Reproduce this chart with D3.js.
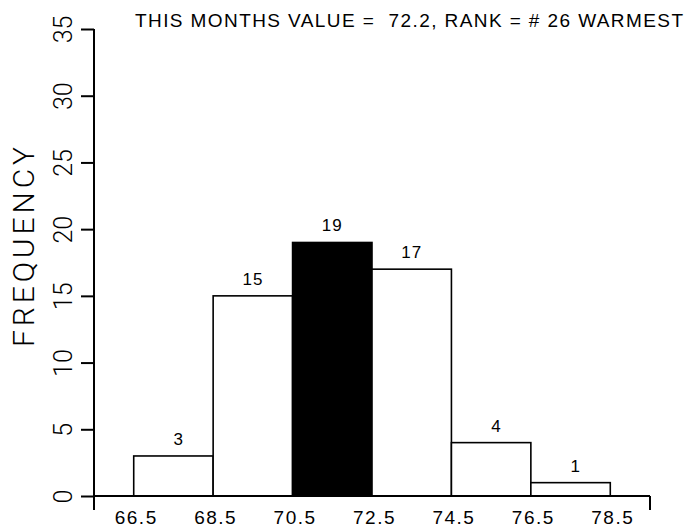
<!DOCTYPE html>
<html>
<head>
<meta charset="utf-8">
<script src="https://cdn.jsdelivr.net/npm/d3@7"></script>
<style>
  html, body { margin: 0; padding: 0; background: #fff; }
  svg { display: block; }
  text { font-family: "Liberation Sans", Arial, sans-serif; fill: #000; }
</style>
</head>
<body>
<svg id="chart" width="685" height="529"></svg>
<script>
// ---- data ----
const binEdges = [66.5, 68.5, 70.5, 72.5, 74.5, 76.5, 78.5];
const counts = [3, 15, 19, 17, 4, 1];
const thisMonthValue = 72.2;
const rank = 26;
const yTicks = [0, 5, 10, 15, 20, 25, 30, 35];
const xTickLabels = ["66.5", "68.5", "70.5", "72.5", "74.5", "76.5", "78.5"];
const titleText = "THIS MONTHS VALUE =  " + thisMonthValue.toFixed(1) + ", RANK = # " + rank + " WARMEST";
const yLabel = "FREQUENCY";

// ---- layout ----
const svg = d3.select("#chart");
const plotLeft = 94, plotRight = 650, plotTop = 29, plotBottom = 496;

const x = d3.scaleLinear().domain([65.5, 79.5]).range([plotLeft, plotRight]);
const y = d3.scaleLinear().domain([0, 35]).range([plotBottom, plotTop]);

const bins = counts.map((c, i) => ({
  x0: binEdges[i], x1: binEdges[i + 1], count: c,
  hit: thisMonthValue >= binEdges[i] && thisMonthValue < binEdges[i + 1]
}));

// bars
svg.append("g").selectAll("rect").data(bins).join("rect")
  .attr("x", d => x(d.x0))
  .attr("y", d => y(d.count))
  .attr("width", d => x(d.x1) - x(d.x0))
  .attr("height", d => y(0) - y(d.count))
  .attr("fill", d => d.hit ? "#000" : "#fff")
  .attr("stroke", "#000")
  .attr("stroke-width", 1.6);

// bar value labels
svg.append("g").selectAll("text").data(bins).join("text")
  .attr("x", d => (x(d.x0) + x(d.x1)) / 2 + 10.5)
  .attr("y", d => y(d.count) - 11)
  .attr("text-anchor", "end")
  .style("font-size", "17px")
  .style("letter-spacing", "1px")
  .text(d => d.count);

// y axis
const yAxis = d3.axisLeft(y).tickValues(yTicks).tickSize(13).tickFormat(d3.format("d"));
const gy = svg.append("g").attr("transform", `translate(${plotLeft},0)`).call(yAxis);
gy.select(".domain").remove();
gy.selectAll(".tick line").attr("stroke", "#000").attr("stroke-width", 2);
gy.selectAll(".tick text")
  .attr("x", null).attr("dy", null)
  .attr("text-anchor", "middle")
  .attr("transform", "translate(-22,0) rotate(-90)")
  .style("font-family", "Roboto, 'Liberation Sans', sans-serif")
  .style("font-weight", "300")
  .style("font-size", "25px");

// x axis labels
const xAxis = d3.axisBottom(x).tickValues(binEdges).tickSize(0).tickFormat((d, i) => xTickLabels[i]);
const gx = svg.append("g").attr("transform", `translate(0,${plotBottom})`).call(xAxis);
gx.select(".domain").remove();
gx.selectAll(".tick text")
  .attr("y", 28).attr("dy", null)
  .attr("dx", 2)
  .style("font-size", "19px")
  .style("letter-spacing", "1.5px");

// axis lines
const axisG = svg.append("g").attr("stroke", "#000").attr("stroke-width", 2).attr("fill", "none");
axisG.append("line").attr("x1", plotLeft).attr("x2", plotLeft).attr("y1", y(35)).attr("y2", plotBottom + 14);
axisG.append("line").attr("x1", plotLeft).attr("x2", plotRight).attr("y1", plotBottom).attr("y2", plotBottom);
axisG.append("line").attr("x1", plotRight).attr("x2", plotRight).attr("y1", plotBottom).attr("y2", plotBottom + 14);

// title
svg.append("text")
  .attr("x", 135).attr("y", 27)
  .attr("textLength", 548).attr("lengthAdjust", "spacing")
  .style("font-size", "19px")
  .style("white-space", "pre")
  .text(titleText);

// y label
svg.append("text")
  .attr("transform", "translate(34,247) rotate(-90)")
  .attr("text-anchor", "middle")
  .attr("textLength", 200).attr("lengthAdjust", "spacing")
  .style("font-family", "Roboto, 'Liberation Sans', sans-serif")
  .style("font-weight", "300")
  .style("font-size", "30px")
  .text(yLabel);
</script>
</body>
</html>
